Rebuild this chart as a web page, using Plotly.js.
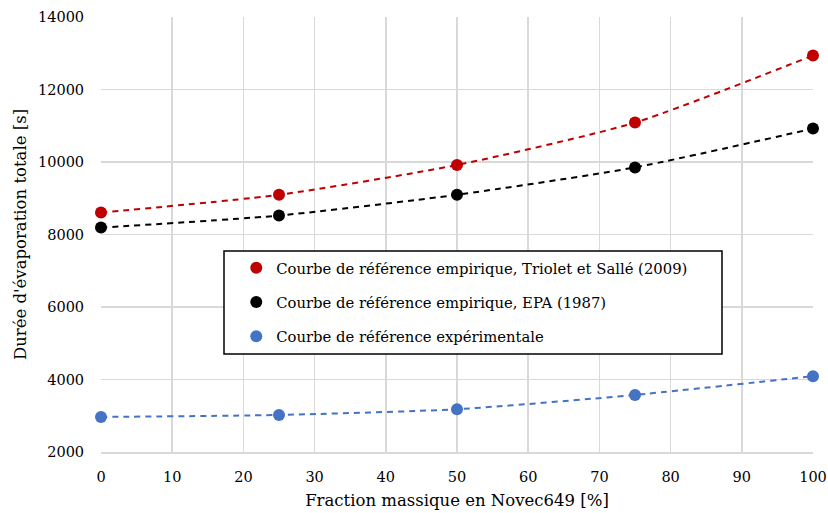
<!DOCTYPE html>
<html>
<head>
<meta charset="utf-8">
<script src="https://cdn.plot.ly/plotly-3.0.1.min.js"></script>
<style>html,body{margin:0;padding:0;background:#fff}#chart{width:828px;height:513px}</style>
</head>
<body>
<div id="chart"></div>
<script>
const fractions = [0, 25, 50, 75, 100];
const triolet = [8606, 9095, 9917, 11087, 12940];
const epa = [8191, 8523, 9096, 9851, 10921];
const experimental = [2967, 3022, 3180, 3575, 4091];
const seriesNames = [
  "Courbe de référence empirique, Triolet et Sallé (2009)",
  "Courbe de référence empirique, EPA (1987)",
  "Courbe de référence expérimentale"
];
const colors = ["#C00000", "#000000", "#4472C4"];
const xTicks = [0,10,20,30,40,50,60,70,80,90,100];
const yTicks = [2000,4000,6000,8000,10000,12000,14000];

const font = "DejaVu Serif, Liberation Serif, serif";
const allSeries = [triolet, epa, experimental];
const traces = [];
allSeries.forEach((ys, i) => {
  traces.push({
    x: fractions, y: ys, type: 'scatter', mode: 'lines',
    line: {color: colors[i], width: 2, dash: '6px,5px', shape: 'spline', smoothing: 0.6},
    showlegend: false, hoverinfo: 'skip', cliponaxis: false
  });
});
allSeries.forEach((ys, i) => {
  traces.push({
    x: fractions, y: ys, type: 'scatter', mode: 'markers', name: seriesNames[i],
    legendgroup: 'g' + i, cliponaxis: false,
    marker: {color: colors[i], size: 12}
  });
});

const layout = {
  width: 828, height: 513,
  margin: {l: 101, r: 15, t: 17, b: 61},
  paper_bgcolor: '#fff', plot_bgcolor: '#fff',
  font: {family: font, color: '#000', size: 15},
  showlegend: true,
  legend: {
    x: 0.19, y: 0.4605, xanchor: 'left', yanchor: 'top',
    bgcolor: 'rgba(0,0,0,0)', borderwidth: 0,
    font: {family: font, size: 14.8, color: '#000'},
    tracegroupgap: 12, itemclick: false
  },
  xaxis: {
    range: [0, 100], tickvals: xTicks, ticktext: xTicks.map(String),
    showgrid: true, gridcolor: '#d9d9d9', gridwidth: 1.5,
    zeroline: false, showline: true, linecolor: '#d9d9d9', linewidth: 1.5,
    ticks: 'outside', ticklen: 11, tickcolor: 'rgba(0,0,0,0)',
    tickfont: {family: font, size: 14.5, color: '#000'},
    title: {text: 'Fraction massique en Novec649 [%]', font: {family: font, size: 16.5, color: '#000'}, standoff: 10}
  },
  yaxis: {
    range: [2000, 14000], tickvals: yTicks, ticktext: yTicks.map(String),
    showgrid: true, gridcolor: '#d9d9d9', gridwidth: 1.5,
    zeroline: false, showline: false,
    ticks: 'outside', ticklen: 13, tickcolor: 'rgba(0,0,0,0)',
    tickfont: {family: font, size: 14.5, color: '#000'},
    title: {text: "Durée d'évaporation totale [s]", font: {family: font, size: 16.5, color: '#000'}, standoff: 7}
  },
  shapes: [{
    type: 'rect', xref: 'paper', yref: 'paper', layer: 'above',
    x0: (224 - 101) / 712, x1: (722 - 101) / 712,
    y0: (452 - 354) / 435, y1: (452 - 251) / 435,
    line: {color: '#000', width: 1.5}, fillcolor: '#fff'
  }]
};
Plotly.newPlot('chart', traces, layout, {displayModeBar: false, staticPlot: true});
</script>
</body>
</html>
